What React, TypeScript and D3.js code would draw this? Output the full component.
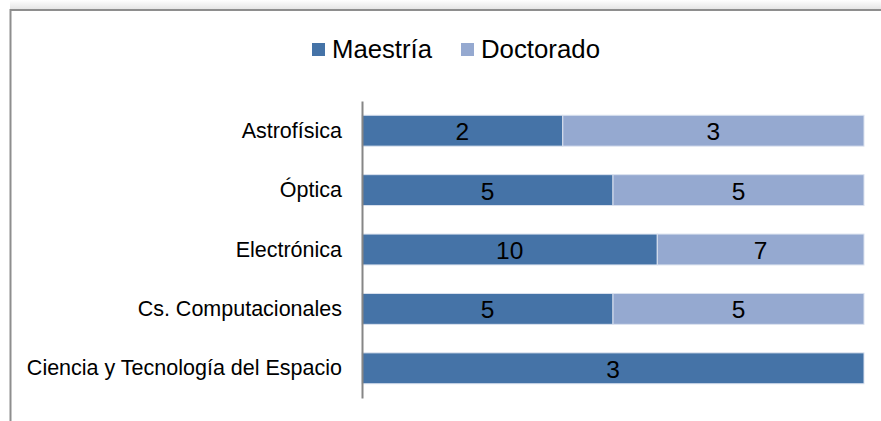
import React, { useEffect, useRef } from "react";
import * as d3 from "d3";

// values
const categories = [
  "Astrofísica",
  "Óptica",
  "Electrónica",
  "Cs. Computacionales",
  "Ciencia y Tecnología del Espacio",
];
const maestria = [2, 5, 10, 5, 3];
const doctorado = [3, 5, 7, 5, 0];
const seriesNames = ["Maestría", "Doctorado"];
const seriesColors = ["#4573a7", "#95a9d0"];

export default function App() {
  const ref = useRef<SVGSVGElement>(null);

  useEffect(() => {
    const width = 881,
      height = 421;
    const svg = d3.select(ref.current);
    svg.selectAll("*").remove();

    const rows = categories.map((c, i) => ({
      cat: c,
      Maestría: maestria[i],
      Doctorado: doctorado[i],
    }));

    // frame of the chart area, with a faint shadow on top
    const defs = svg.append("defs");
    const grad = defs
      .append("linearGradient")
      .attr("id", "shade")
      .attr("x1", 0)
      .attr("x2", 0)
      .attr("y1", 0)
      .attr("y2", 1);
    grad.append("stop").attr("offset", "0%").attr("stop-color", "#ffffff");
    grad.append("stop").attr("offset", "100%").attr("stop-color", "#e6e6e6");
    svg
      .append("rect")
      .attr("x", 10)
      .attr("y", 0)
      .attr("width", width - 10)
      .attr("height", 9)
      .attr("fill", "url(#shade)");
    svg
      .append("path")
      .attr("d", `M10.5,${height} V10 H${width}`)
      .attr("fill", "none")
      .attr("stroke", "#8e8e8e")
      .attr("stroke-width", 2);

    const x = d3.scaleLinear().domain([0, 1]).range([362, 864]);
    const y = d3
      .scaleBand()
      .domain(categories)
      .range([101, 398])
      .paddingInner(0.48)
      .paddingOuter(0.24);

    const stacked = d3
      .stack<any>()
      .keys(seriesNames)
      .offset(d3.stackOffsetExpand)(rows);

    const groups = svg
      .append("g")
      .selectAll("g")
      .data(stacked)
      .enter()
      .append("g")
      .attr("fill", (d, i) => seriesColors[i]);

    groups
      .selectAll("rect")
      .data((d) => d)
      .enter()
      .append("rect")
      .attr("x", (d) => x(d[0]))
      .attr("y", (d) => y(d.data.cat)!)
      .attr("width", (d) => x(d[1]) - x(d[0]))
      .attr("height", y.bandwidth())
      .attr("stroke", "#dbe2ef")
      .attr("stroke-width", 1);

    // value labels
    stacked.forEach((s, si) => {
      svg
        .append("g")
        .selectAll("text")
        .data(s.filter((d) => d.data[seriesNames[si]] > 0))
        .enter()
        .append("text")
        .attr("x", (d) => (x(d[0]) + x(d[1])) / 2)
        .attr("y", (d) => y(d.data.cat)! + y.bandwidth() / 2 + 9.5)
        .attr("text-anchor", "middle")
        .attr("font-family", "Liberation Sans, Arial, sans-serif")
        .attr("font-size", 24.5)
        .attr("fill", "#000")
        .text((d) => d.data[seriesNames[si]]);
    });

    // category axis
    const axis = svg
      .append("g")
      .attr("transform", `translate(${x(0)},0)`)
      .call(d3.axisLeft(y).tickSize(0).tickPadding(20));
    axis.select(".domain").attr("stroke", "#868686").attr("stroke-width", 2);
    axis
      .selectAll("text")
      .attr("font-family", "Liberation Sans, Arial, sans-serif")
      .attr("font-size", 21.5)
      .attr("dy", "0.33em")
      .attr("fill", "#000");

    // legend
    const legendX = [312, 461];
    const legendW = [100, 119];
    const legend = svg
      .append("g")
      .selectAll("g")
      .data(seriesNames)
      .enter()
      .append("g")
      .attr("transform", (d, i) => `translate(${legendX[i]},43)`);
    legend
      .append("rect")
      .attr("width", 13)
      .attr("height", 13)
      .attr("fill", (d, i) => seriesColors[i]);
    legend
      .append("text")
      .attr("x", 20)
      .attr("y", 14.5)
      .attr("font-family", "Liberation Sans, Arial, sans-serif")
      .attr("font-size", 25)
      .attr("textLength", (d, i) => legendW[i])
      .attr("lengthAdjust", "spacingAndGlyphs")
      .attr("fill", "#000")
      .text((d) => d);
  }, []);

  return (
    <svg
      ref={ref}
      width={881}
      height={421}
      style={{ position: "absolute", left: 0, top: 0, background: "#fff" }}
    />
  );
}
